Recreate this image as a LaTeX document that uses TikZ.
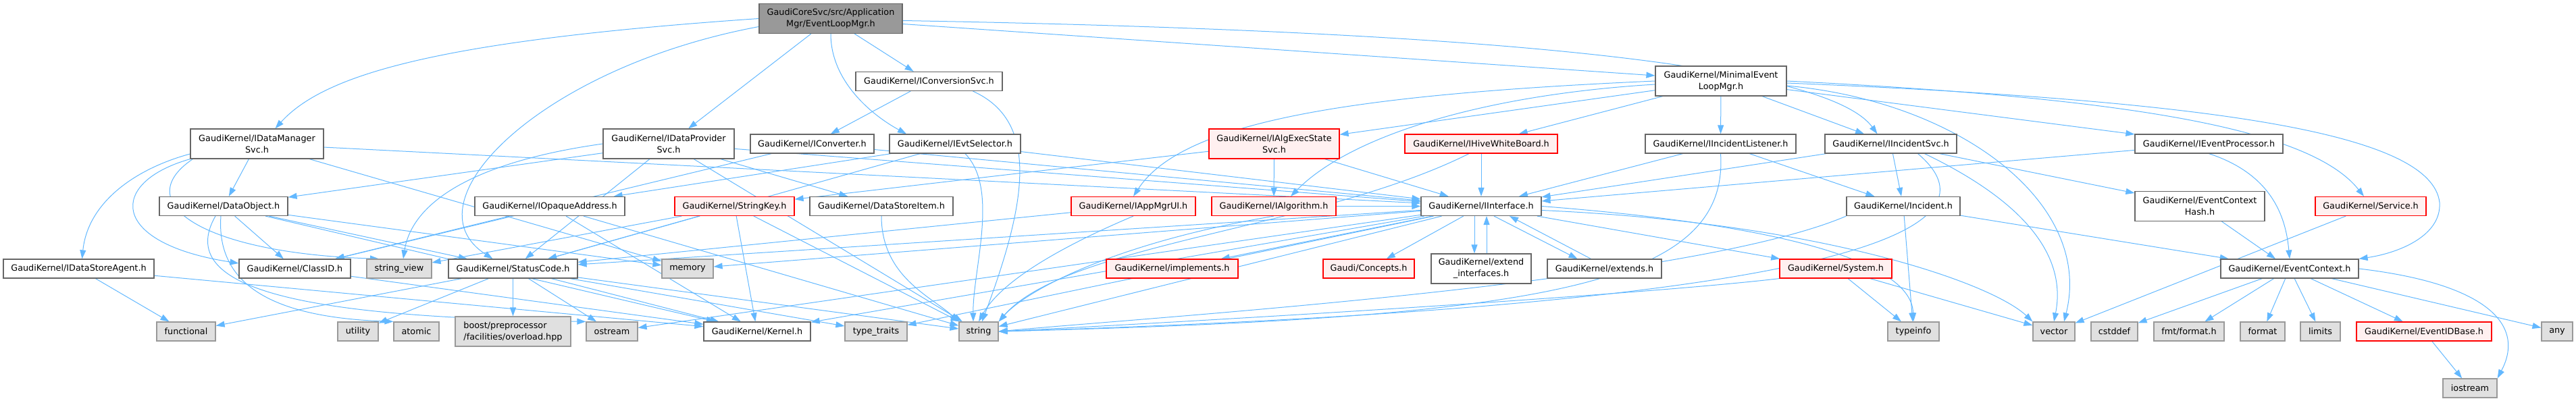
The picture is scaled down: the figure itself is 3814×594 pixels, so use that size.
\documentclass[tikz,border=0pt]{standalone}
\usepackage{fontspec}
\setmainfont{DejaVu Sans}
\usetikzlibrary{arrows.meta,backgrounds}
\definecolor{EdgeBlue}{RGB}{99,184,255}
\definecolor{BoxLine}{RGB}{102,102,102}
\definecolor{RootFill}{RGB}{153,153,153}
\definecolor{StdFill}{RGB}{224,224,224}
\definecolor{StdLine}{RGB}{153,153,153}
\definecolor{RedFill}{RGB}{255,240,240}
\definecolor{RedLine}{RGB}{255,0,0}
\tikzset{
  dep/.style={-{Triangle[length=13pt,width=9pt]},draw=EdgeBlue,line width=1pt},
  hdr/.style={draw=BoxLine,fill=white,line width=1.2pt,inner sep=0pt,align=center,font=\fontsize{12.8}{17}\selectfont,minimum height=28pt},
  hdrRed/.style={hdr,draw=RedLine,fill=RedFill},
  stdhdr/.style={hdr,draw=StdLine,fill=StdFill},
  rootnode/.style={hdr,fill=RootFill},
  tall/.style={minimum height=44pt}
}
\begin{document}
\begin{tikzpicture}[x=1pt,y=-1pt]
  \useasboundingbox (0,0) rectangle (3814,594);
  % row 0 and 1
  \node[rootnode,tall,minimum width=212pt] (root) at (1230,27.5) {GaudiCoreSvc/src/Application\\Mgr/EventLoopMgr.h};
  \node[hdr,minimum width=217pt] (conv) at (1375.5,120.5) {GaudiKernel/IConversionSvc.h};
  \node[hdr,tall,minimum width=194pt] (mel) at (2548,120) {GaudiKernel/MinimalEvent\\LoopMgr.h};
  % row 2
  \node[hdr,tall,minimum width=197pt] (idm) at (380.5,213) {GaudiKernel/IDataManager\\Svc.h};
  \node[hdr,tall,minimum width=194pt] (idp) at (990,213) {GaudiKernel/IDataProvider\\Svc.h};
  \node[hdr,minimum width=183pt] (cvt) at (1202.5,213) {GaudiKernel/IConverter.h};
  \node[hdr,minimum width=194pt] (evs) at (1414,213) {GaudiKernel/IEvtSelector.h};
  \node[hdrRed,tall,minimum width=193pt] (aes) at (1886.5,213) {GaudiKernel/IAlgExecState\\Svc.h};
  \node[hdrRed,minimum width=226pt] (hwb) at (2193,213) {GaudiKernel/IHiveWhiteBoard.h};
  \node[hdr,minimum width=223pt] (ilis) at (2547.5,213) {GaudiKernel/IIncidentListener.h};
  \node[hdr,minimum width=195pt] (isvc) at (2799.5,213) {GaudiKernel/IIncidentSvc.h};
  \node[hdr,minimum width=219pt] (iep) at (3270.5,213) {GaudiKernel/IEventProcessor.h};
  % row 3
  \node[hdr,minimum width=190pt] (dobj) at (331,305.5) {GaudiKernel/DataObject.h};
  \node[hdr,minimum width=222pt] (opa) at (814,305.5) {GaudiKernel/IOpaqueAddress.h};
  \node[hdrRed,minimum width=177pt] (skey) at (1087.5,305.5) {GaudiKernel/StringKey.h};
  \node[hdr,minimum width=212pt] (dsi) at (1305,305.5) {GaudiKernel/DataStoreItem.h};
  \node[hdrRed,minimum width=184pt] (amui) at (1678,305.5) {GaudiKernel/IAppMgrUI.h};
  \node[hdrRed,minimum width=184pt] (ialg) at (1886,305.5) {GaudiKernel/IAlgorithm.h};
  \node[hdr,minimum width=178pt] (iif) at (2193,305.5) {GaudiKernel/IInterface.h};
  \node[hdr,minimum width=168pt] (inc) at (2818,305.5) {GaudiKernel/Incident.h};
  \node[hdr,tall,minimum width=192pt] (ech) at (3257,305.5) {GaudiKernel/EventContext\\Hash.h};
  \node[hdrRed,minimum width=164pt] (svc) at (3510,305.5) {GaudiKernel/Service.h};
  % row 4
  \node[hdr,minimum width=223pt] (dsa) at (116.5,398) {GaudiKernel/IDataStoreAgent.h};
  \node[hdr,minimum width=165pt] (cid) at (436.5,398) {GaudiKernel/ClassID.h};
  \node[stdhdr,minimum width=96pt] (sview) at (591,398) {string\_view};
  \node[hdr,minimum width=191pt] (sc) at (759.5,398) {GaudiKernel/StatusCode.h};
  \node[stdhdr,minimum width=76pt] (mem) at (1018,398) {memory};
  \node[hdrRed,minimum width=195pt] (impl) at (1735.5,398) {GaudiKernel/implements.h};
  \node[hdrRed,minimum width=135pt] (conc) at (2026.5,398) {Gaudi/Concepts.h};
  \node[hdr,tall,minimum width=148pt] (exti) at (2193,398) {GaudiKernel/extend\\\_interfaces.h};
  \node[hdr,minimum width=169pt] (exts) at (2375.5,398) {GaudiKernel/extends.h};
  \node[hdrRed,minimum width=166pt] (sys) at (2718,398) {GaudiKernel/System.h};
  \node[hdr,minimum width=204pt] (ectx) at (3390,398) {GaudiKernel/EventContext.h};
  % row 5 and 6
  \node[stdhdr,minimum width=87pt] (func) at (275.5,491) {functional};
  \node[stdhdr,minimum width=60pt] (util) at (530,491) {utility};
  \node[stdhdr,minimum width=67pt] (atom) at (616.5,491) {atomic};
  \node[stdhdr,tall,minimum width=171pt,align=left] (boost) at (759.5,491) {boost/preprocessor\\/facilities/overload.hpp};
  \node[stdhdr,minimum width=76pt] (ostr) at (906,491) {ostream};
  \node[hdr,minimum width=158pt] (kern) at (1121,491) {GaudiKernel/Kernel.h};
  \node[stdhdr,minimum width=92pt] (ttr) at (1297,491) {type\_traits};
  \node[stdhdr,minimum width=58pt] (str) at (1449,491) {string};
  \node[stdhdr,minimum width=76pt] (tinfo) at (2833,491) {typeinfo};
  \node[stdhdr,minimum width=62pt] (vec) at (3041,491) {vector};
  \node[stdhdr,minimum width=69pt] (cstd) at (3130.5,491) {cstddef};
  \node[stdhdr,minimum width=104pt] (fmt) at (3241,491) {fmt/format.h};
  \node[stdhdr,minimum width=66pt] (fmtstd) at (3350,491) {format};
  \node[stdhdr,minimum width=59pt] (lim) at (3435.5,491) {limits};
  \node[hdrRed,minimum width=200pt] (eidb) at (3589,491) {GaudiKernel/EventIDBase.h};
  \node[stdhdr,minimum width=46pt] (any) at (3786,491) {any};
  \node[stdhdr,minimum width=80pt] (iost) at (3657,575) {iostream};
  \begin{scope}[on background layer]
  % straight includes
  \foreach \src/\dst in {root/idp,root/conv,conv/cvt,mel/aes,mel/hwb,mel/ilis,mel/isvc,mel/iep,
    idm/dobj,idm/iif,idm/mem,idp/dobj,idp/dsi,idp/iif,idp/sc,idp/str,cvt/cid,cvt/iif,
    evs/opa,evs/iif,evs/sc,aes/ialg,aes/iif,aes/skey,hwb/iif,ilis/iif,ilis/inc,
    isvc/iif,isvc/inc,isvc/ech,iep/iif,dobj/cid,dobj/sc,dobj/mem,dobj/kern,
    opa/cid,opa/kern,opa/str,skey/sview,skey/sc,skey/kern,skey/str,amui/sc,ialg/iif,
    iif/conc,iif/impl,iif/sys,iif/sc,iif/kern,iif/ostr,iif/mem,iif/ttr,iif/str,
    inc/ectx,inc/tinfo,ech/ectx,svc/vec,sys/tinfo,sys/vec,dsa/func,dsa/kern,cid/kern,
    sc/func,sc/util,sc/boost,sc/ostr,sc/kern,sc/ttr,sc/str,
    ectx/cstd,ectx/fmt,ectx/fmtstd,ectx/lim,ectx/eidb,ectx/any,eidb/iost}
    {\draw[dep] (\src) -- (\dst);}
  % curved includes
  \draw[dep] (root.west) .. controls (650,60) and (480,110) .. ([xshift=27pt]idm.north);
  \draw[dep] ([yshift=-12pt]root.west) .. controls (800,100) and (600,300) .. ([xshift=-30pt]sc.north);
  \draw[dep] (root.south) .. controls (1230,120) and (1290,170) .. ([xshift=-72pt]evs.north);
  \draw[dep] ([yshift=-3pt]root.east) .. controls (2150,45) and (2700,90) .. ([xshift=-20pt]isvc.north);
  \draw[dep] ([yshift=-8pt]root.east) -- ([yshift=8pt]mel.west);
  \draw[dep] (mel.west) .. controls (2000,140) and (1750,180) .. (amui.north);
  \draw[dep] ([yshift=-5pt]mel.west) .. controls (2200,140) and (2000,200) .. ([xshift=25pt]ialg.north);
  \draw[dep] (mel.east) .. controls (3150,145) and (3420,190) .. ([xshift=-10pt]svc.north);
  \draw[dep] ([yshift=-3pt]mel.east) .. controls (3300,150) and (3600,200) .. (3612,300) .. controls (3615,350) and (3550,375) .. (ectx.north east);
  \draw[dep] ([yshift=-7pt]mel.east) .. controls (2900,150) and (3100,300) .. ([xshift=15pt]vec.north);
  \draw[dep] ([xshift=65pt]conv.south) .. controls (1540,180) and (1520,300) .. ([xshift=5pt]str.north);
  \draw[dep] ([yshift=-15pt]idm.west) .. controls (200,250) and (130,300) .. ([xshift=5pt]dsa.north);
  \draw[dep] (idm.south west) .. controls (160,270) and (160,360) .. ([yshift=8pt]cid.west);
  \draw[dep] ([xshift=4pt]idm.south west) .. controls (190,300) and (300,375) .. ([xshift=-30pt]sview.north);
  \draw[dep] (idp.west) .. controls (700,240) and (610,300) .. ([xshift=6pt]sview.north);
  \draw[dep] ([xshift=-4pt]dobj.south) .. controls (320,420) and (400,470) .. (atom.north west);
  \draw[dep] ([xshift=-12pt]dobj.south) .. controls (250,440) and (500,470) .. (ostr.north west);
  \draw[dep] (dsi.south) .. controls (1305,410) and (1380,440) .. (str.north west);
  \draw[dep] (amui.south) .. controls (1560,370) and (1480,420) .. (str.north);
  \draw[dep] (ialg.south) .. controls (1650,360) and (1520,430) .. (str.north east);
  \draw[dep] ([xshift=-18pt]hwb.south) .. controls (1950,340) and (1580,360) .. (str.north east);
  \draw[dep] ([xshift=15pt]evs.south) .. controls (1480,280) and (1440,400) .. ([xshift=-8pt]str.north);
  \draw[dep] (ilis.south) .. controls (2560,420) and (2300,470) .. (str.east);
  \draw[dep] ([xshift=40pt]isvc.south) .. controls (2960,330) and (2800,450) .. (str.east);
  \draw[dep] ([xshift=50pt]isvc.south) .. controls (3000,300) and (3060,380) .. (vec.north);
  \draw[dep] (iep.south) .. controls (3370,260) and (3385,330) .. (ectx.north);
  \draw[dep] ([xshift=-10pt]iif.south) -- ([xshift=-10pt]exti.north);
  \draw[dep] ([xshift=8pt]exti.north) -- ([xshift=8pt]iif.south);
  \draw[dep] ([xshift=19pt]iif.south) -- ([xshift=-40pt]exts.north);
  \draw[dep] ([xshift=-20pt]exts.north) -- ([xshift=42pt]iif.south);
  \draw[dep] (iif.east) .. controls (2600,330) and (2830,380) .. (tinfo.north);
  \draw[dep] ([yshift=-6pt]iif.east) .. controls (2700,330) and (2950,420) .. (vec.north west);
  \draw[dep] (inc.south west) .. controls (2500,420) and (1700,470) .. (str.east);
  \draw[dep] (sys.south west) .. controls (2400,440) and (1700,480) .. (str.east);
  \draw[dep] (ectx.east) .. controls (3680,420) and (3740,480) .. (iost.north east);
  \end{scope}
\end{tikzpicture}
\end{document}
